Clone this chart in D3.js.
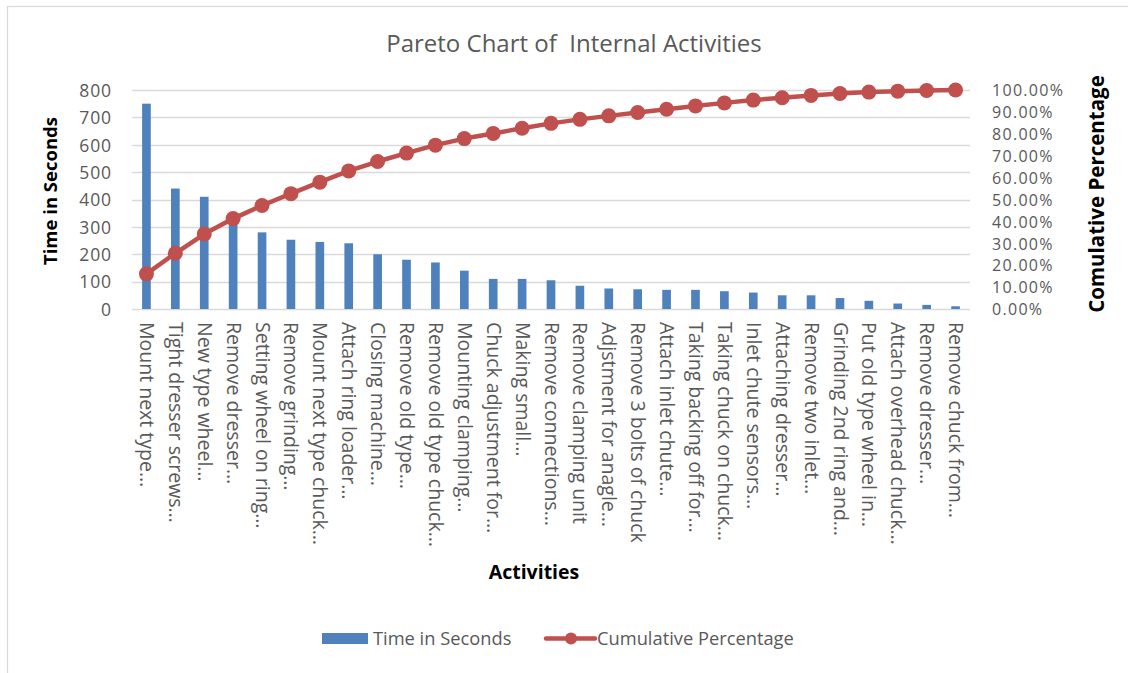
<!DOCTYPE html>
<html>
<head>
<meta charset="utf-8">
<script src="https://cdn.jsdelivr.net/npm/d3@7"></script>
<style>
  html, body { margin: 0; padding: 0; background: #fff; }
  svg { display: block; font-family: "Open Sans", sans-serif; }
  text { white-space: pre; }
</style>
</head>
<body>
<svg id="chart" width="1128" height="673"></svg>
<script>
const categories = [
  "Mount next type…", "Tight dresser screws…", "New type wheel…", "Remove dresser…",
  "Setting wheel on ring…", "Remove grinding…", "Mount next type chuck…", "Attach ring loader…",
  "Closing machine…", "Remove old type…", "Remove old type chuck…", "Mounting clamping…",
  "Chuck adjustment for…", "Making small…", "Remove connections…", "Remove clamping unit",
  "Adjstment for anagle…", "Remove 3 bolts of chuck", "Attach inlet chute…", "Taking backing off for…",
  "Taking chuck on chuck…", "Inlet chute sensors…", "Attaching dresser…", "Remove two inlet…",
  "Grinding 2nd ring and…", "Put old type wheel in…", "Attach overhead chuck…", "Remove dresser…",
  "Remove chuck from…"
];
const timeSeconds = [750, 440, 410, 330, 280, 253, 245, 240, 200, 180, 170, 140, 110, 110, 105, 85,
  75, 72, 70, 70, 65, 60, 50, 50, 40, 30, 20, 15, 10];
const cumulativePct = [0.1604, 0.2545, 0.3422, 0.4128, 0.4727, 0.5268, 0.5793, 0.6306, 0.6734, 0.7119,
  0.7482, 0.7782, 0.8017, 0.8252, 0.8477, 0.8659, 0.8819, 0.8973, 0.9123, 0.9273, 0.9412, 0.9540,
  0.9647, 0.9754, 0.9840, 0.9904, 0.9947, 0.9979, 1.0000];
const leftTicks = [0, 100, 200, 300, 400, 500, 600, 700, 800];
const rightTicks = [0, 0.1, 0.2, 0.3, 0.4, 0.5, 0.6, 0.7, 0.8, 0.9, 1.0];

const title = "Pareto Chart of  Internal Activities";
const xTitle = "Activities";
const yLeftTitle = "Time in Seconds";
const yRightTitle = "Comulative Percentage";
const legendBar = "Time in Seconds";
const legendLine = "Cumulative Percentage";

const BAR = "#4f81bd", LINE = "#c0504d", GRID = "#d9d9d9", TXT = "#595959";
const svg = d3.select("#chart");

// frame
svg.append("rect").attr("x", 7.5).attr("y", 6.5).attr("width", 1200).attr("height", 700)
  .attr("fill", "#fff").attr("stroke", GRID).attr("stroke-width", 1.2);

const plot = { left: 132, right: 970, top: 90, bottom: 309 };
const idx = categories.map((c, i) => i);

const x = d3.scaleBand().domain(idx).range([plot.left, plot.right])
  .paddingInner(0.7).paddingOuter(0.35);
const yL = d3.scaleLinear().domain([0, 800]).range([plot.bottom, plot.top]);
const yR = d3.scaleLinear().domain([0, 1]).range([plot.bottom, plot.top]);

// gridlines
svg.append("g").selectAll("line").data(leftTicks).join("line")
  .attr("x1", plot.left).attr("x2", plot.right)
  .attr("y1", d => Math.round(yL(d)) + 0.5).attr("y2", d => Math.round(yL(d)) + 0.5)
  .attr("stroke", GRID).attr("stroke-width", 1.3);

// left axis
const axL = svg.append("g").attr("transform", `translate(${plot.left - 20},0)`)
  .call(d3.axisLeft(yL).tickValues(leftTicks).tickSize(0).tickPadding(0));
axL.select(".domain").remove();
axL.selectAll("text").attr("fill", TXT).attr("font-size", 17.5).attr("letter-spacing", 0.9)
  .attr("font-family", "Open Sans").attr("dy", "0.36em");

// right axis
const axR = svg.append("g").attr("transform", `translate(${plot.right + 22},0)`)
  .call(d3.axisRight(yR).tickValues(rightTicks).tickFormat(d3.format(".2%")).tickSize(0).tickPadding(0));
axR.select(".domain").remove();
axR.selectAll("text").attr("fill", TXT).attr("font-size", 16).attr("letter-spacing", 1.3)
  .attr("font-family", "Open Sans").attr("dy", "0.36em");

// bottom axis labels
const axB = svg.append("g").attr("transform", `translate(0,${plot.bottom})`)
  .call(d3.axisBottom(x).tickSize(0).tickPadding(0).tickFormat(i => categories[i]));
axB.select(".domain").remove();
axB.selectAll("text")
  .attr("fill", TXT).attr("font-size", 19.5).attr("font-family", "Open Sans")
  .attr("text-anchor", "start")
  .attr("transform", "translate(0,13) rotate(90)")
  .attr("x", 0).attr("y", 0).attr("dy", "0.33em");

// bars
svg.append("g").selectAll("rect").data(timeSeconds).join("rect")
  .attr("x", (d, i) => x(i))
  .attr("width", x.bandwidth())
  .attr("y", d => yL(d))
  .attr("height", d => yL(0) - yL(d))
  .attr("fill", BAR);

// line
const cx = (d, i) => x(i) + x.bandwidth() / 2;
svg.append("path").datum(cumulativePct)
  .attr("fill", "none").attr("stroke", LINE).attr("stroke-width", 4.5).attr("stroke-linejoin", "round")
  .attr("d", d3.line().x(cx).y(d => yR(d)));
svg.append("g").selectAll("circle").data(cumulativePct).join("circle")
  .attr("cx", cx).attr("cy", d => yR(d)).attr("r", 7.5).attr("fill", LINE);

// titles
svg.append("text").attr("x", 574).attr("y", 52).attr("text-anchor", "middle")
  .attr("font-size", 24).attr("fill", TXT).text(title);
svg.append("text").attr("x", 534).attr("y", 579).attr("text-anchor", "middle")
  .attr("font-size", 19.5).attr("font-weight", "bold").attr("fill", "#000").text(xTitle);
svg.append("text").attr("transform", "translate(57,191) rotate(-90)").attr("text-anchor", "middle")
  .attr("font-size", 18.5).attr("font-weight", "bold").attr("fill", "#000").text(yLeftTitle);
svg.append("text").attr("transform", "translate(1104,194) rotate(-90)").attr("text-anchor", "middle")
  .attr("font-size", 20.5).attr("font-weight", "bold").attr("fill", "#000").text(yRightTitle);

// legend
const lg = svg.append("g");
lg.append("rect").attr("x", 322).attr("y", 633).attr("width", 46).attr("height", 11).attr("fill", BAR);
lg.append("text").attr("x", 373).attr("y", 645).attr("font-size", 18.3).attr("fill", TXT).text(legendBar);
lg.append("line").attr("x1", 546).attr("x2", 595).attr("y1", 638.5).attr("y2", 638.5)
  .attr("stroke", LINE).attr("stroke-width", 4.5).attr("stroke-linecap", "round");
lg.append("circle").attr("cx", 571).attr("cy", 638.5).attr("r", 6).attr("fill", LINE);
lg.append("text").attr("x", 597).attr("y", 645).attr("font-size", 18.3).attr("fill", TXT).text(legendLine);
</script>
</body>
</html>
